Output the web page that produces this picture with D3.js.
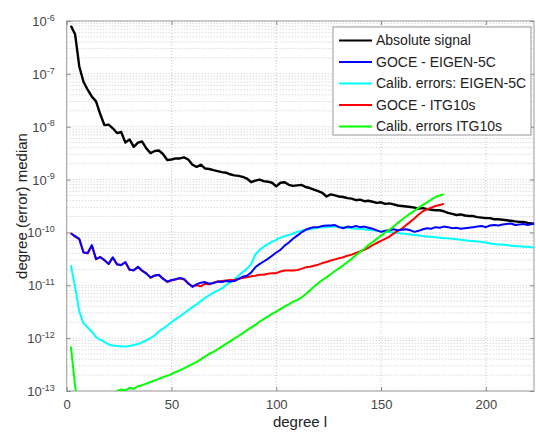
<!DOCTYPE html>
<html>
<head>
<meta charset="utf-8">
<script src="https://cdn.jsdelivr.net/npm/d3@7"></script>
<style>
  body { margin: 0; background: #fff; }
  text { font-family: 'Liberation Sans', Arial, sans-serif; }
</style>
</head>
<body>
<div id="chart"></div>
<script>
// log10 of the degree (error) median, sampled every 2nd degree from l = 2
const absSignal = [
  -6.09, -6.25, -6.86, -7.15, -7.30, -7.43, -7.52, -7.76, -7.97, -7.96,
  -8.03, -8.12, -8.10, -8.30, -8.24, -8.38, -8.30, -8.28, -8.41, -8.50,
  -8.46, -8.45, -8.52, -8.63, -8.62, -8.60, -8.60, -8.58, -8.62, -8.72,
  -8.76, -8.72, -8.79, -8.80, -8.82, -8.84, -8.86, -8.87, -8.90, -8.92,
  -8.93, -8.95, -8.98, -9.05, -9.02, -9.00, -9.03, -9.04, -9.06, -9.13,
  -9.06, -9.05, -9.10, -9.12, -9.11, -9.10, -9.14, -9.16, -9.19, -9.22,
  -9.25, -9.32, -9.28, -9.30, -9.32, -9.33, -9.35, -9.36, -9.39, -9.38,
  -9.41, -9.40, -9.42, -9.44, -9.43, -9.46, -9.45, -9.47, -9.49, -9.50,
  -9.51, -9.52, -9.53, -9.55, -9.54, -9.56, -9.57, -9.58, -9.58, -9.60,
  -9.63, -9.65, -9.67, -9.66, -9.68, -9.69, -9.69, -9.71, -9.72, -9.73,
  -9.73, -9.75, -9.75, -9.76, -9.77, -9.78, -9.79, -9.80, -9.80, -9.82,
  -9.83, -9.84
];

const goceEigen = [
  -10.02, -10.07, -10.12, -10.38, -10.39, -10.24, -10.50, -10.47, -10.52, -10.60,
  -10.47, -10.60, -10.62, -10.56, -10.70, -10.72, -10.65, -10.72, -10.78, -10.85,
  -10.82, -10.80, -10.88, -10.93, -10.90, -10.89, -10.86, -10.88, -10.96, -11.03,
  -10.98, -10.95, -10.94, -10.97, -10.96, -10.93, -10.94, -10.92, -10.93, -10.92,
  -10.88, -10.84, -10.82, -10.76, -10.66, -10.60, -10.55, -10.50, -10.44, -10.38,
  -10.33, -10.25, -10.19, -10.12, -10.06, -10.00, -9.95, -9.92, -9.90, -9.90,
  -9.88, -9.87, -9.87, -9.86, -9.90, -9.92, -9.89, -9.90, -9.88, -9.90,
  -9.89, -9.91, -9.93, -9.96, -9.99, -9.97, -9.96, -9.94, -9.96, -9.95,
  -9.94, -9.96, -9.99, -9.97, -9.94, -9.92, -9.93, -9.90, -9.91, -9.89,
  -9.90, -9.92, -9.91, -9.93, -9.92, -9.91, -9.90, -9.89, -9.88, -9.90,
  -9.87, -9.86, -9.87, -9.85, -9.84, -9.83, -9.86, -9.85, -9.84, -9.86,
  -9.84, -9.83
];

const calibEigen = [
  -10.62, -11.03, -11.50, -11.72, -11.80, -11.88, -11.98, -12.03, -12.07, -12.12,
  -12.14, -12.15, -12.16, -12.16, -12.15, -12.13, -12.11, -12.08, -12.04, -12.00,
  -11.95, -11.87, -11.82, -11.76, -11.70, -11.64, -11.59, -11.53, -11.47, -11.41,
  -11.36, -11.30, -11.24, -11.19, -11.14, -11.10, -11.06, -11.00, -10.94, -10.89,
  -10.82, -10.75, -10.69, -10.60, -10.42, -10.33, -10.27, -10.22, -10.18, -10.14,
  -10.10, -10.07, -10.05, -10.02, -9.99, -9.97, -9.95, -9.94, -9.92, -9.91,
  -9.90, -9.90, -9.89, -9.89, -9.90, -9.90, -9.91, -9.92, -9.93, -9.93,
  -9.94, -9.95, -9.96, -9.97, -9.98, -9.99, -9.99, -10.00, -10.01, -10.02,
  -10.03, -10.04, -10.05, -10.06, -10.07, -10.08, -10.08, -10.09, -10.10, -10.11,
  -10.11, -10.12, -10.13, -10.14, -10.15, -10.16, -10.16, -10.17, -10.18, -10.19,
  -10.21, -10.22, -10.23, -10.23, -10.24, -10.25, -10.26, -10.26, -10.27, -10.27,
  -10.28, -10.29
];

const goceItg = [
  -10.01, -10.08, -10.13, -10.37, -10.40, -10.25, -10.51, -10.46, -10.53, -10.59,
  -10.48, -10.61, -10.61, -10.57, -10.71, -10.71, -10.66, -10.73, -10.77, -10.86,
  -10.81, -10.81, -10.87, -10.94, -10.91, -10.88, -10.87, -10.89, -10.97, -11.02,
  -11.00, -11.02, -10.97, -10.98, -10.95, -10.93, -10.92, -10.91, -10.90, -10.90,
  -10.88, -10.86, -10.85, -10.83, -10.82, -10.80, -10.80, -10.78, -10.77, -10.77,
  -10.74, -10.72, -10.72, -10.72, -10.71, -10.69, -10.66, -10.65, -10.63, -10.61,
  -10.58, -10.56, -10.53, -10.51, -10.49, -10.47, -10.44, -10.42, -10.39, -10.36,
  -10.33, -10.29, -10.24, -10.20, -10.16, -10.12, -10.08, -10.02, -9.97, -9.93,
  -9.86, -9.80, -9.73, -9.66, -9.60, -9.56, -9.53, -9.50, -9.48, -9.46
];

const calibItg = [
  -12.16, -12.90, -13.50, -13.90, -14.00, -13.90, -13.70, -13.50, -13.30, -13.15,
  -13.06, -13.00, -12.97, -12.99, -12.94, -12.96, -12.91, -12.89, -12.86, -12.83,
  -12.80, -12.77, -12.74, -12.71, -12.68, -12.64, -12.61, -12.57, -12.53, -12.49,
  -12.45, -12.40, -12.35, -12.30, -12.26, -12.21, -12.16, -12.11, -12.06, -12.01,
  -11.96, -11.91, -11.85, -11.80, -11.75, -11.69, -11.64, -11.59, -11.54, -11.50,
  -11.45, -11.40, -11.36, -11.31, -11.28, -11.23, -11.17, -11.10, -11.03, -10.96,
  -10.90, -10.85, -10.79, -10.73, -10.68, -10.62, -10.56, -10.50, -10.43, -10.37,
  -10.31, -10.24, -10.18, -10.12, -10.06, -10.00, -9.95, -9.89, -9.82, -9.76,
  -9.70, -9.64, -9.59, -9.53, -9.48, -9.43, -9.38, -9.33, -9.30, -9.28
];

const seriesNames = ['Absolute signal', 'GOCE - EIGEN-5C', 'Calib. errors: EIGEN-5C', 'GOCE - ITG10s', 'Calib. errors ITG10s'];
const seriesColors = ['#000000', '#0000ff', '#00ffff', '#ff0000', '#00ff00'];
const xTicks = [0, 50, 100, 150, 200];
const yExponents = [-13, -12, -11, -10, -9, -8, -7, -6];

const width = 536, height = 432;
const margin = { top: 21, right: 2, bottom: 41, left: 66.7 };
const innerW = width - margin.left - margin.right;
const innerH = height - margin.top - margin.bottom;

const svg = d3.select('#chart')
  .append('svg')
  .attr('width', width)
  .attr('height', height)

const x = d3.scaleLinear().domain([0, 223]).range([0, innerW]);
const y = d3.scaleLog().domain([1e-13, 1e-6]).range([innerH, 0]);

const graph = svg.append('g')
  .attr('transform', `translate(${margin.left}, ${margin.top})`)

// dotted grid, majors and log minors
const minors = [];
yExponents.slice(0, -1).forEach(e => {
  for (let k = 2; k <= 9; k++) minors.push(k * Math.pow(10, e));
});

graph.append('g')
  .selectAll('line')
  .data(minors.concat(yExponents.map(e => Math.pow(10, e))))
  .enter().append('line')
  .attr('x1', 0).attr('x2', innerW)
  .attr('y1', d => y(d)).attr('y2', d => y(d))
  .attr('stroke', '#c8c8c8')
  .attr('stroke-dasharray', '1,2')

graph.append('g')
  .selectAll('line')
  .data(xTicks.slice(1))
  .enter().append('line')
  .attr('x1', d => x(d)).attr('x2', d => x(d))
  .attr('y1', 0).attr('y2', innerH)
  .attr('stroke', '#c8c8c8')
  .attr('stroke-dasharray', '1,2')

// frame + inward ticks
graph.append('rect')
  .attr('width', innerW).attr('height', innerH)
  .attr('fill', 'none')
  .attr('stroke', '#999')

const xAxis = graph.append('g')
  .attr('transform', `translate(0, ${innerH})`)
  .call(d3.axisBottom(x).tickValues(xTicks).tickSize(-4).tickPadding(9))

graph.append('g')
  .call(d3.axisTop(x).tickValues(xTicks).tickSize(-4).tickFormat(''))

const yAxis = graph.append('g')
  .call(d3.axisLeft(y).tickValues(yExponents.map(e => Math.pow(10, e))).tickSize(-4).tickFormat(''))

graph.append('g')
  .attr('transform', `translate(${innerW}, 0)`)
  .call(d3.axisRight(y).tickValues(yExponents.map(e => Math.pow(10, e))).tickSize(-4).tickFormat(''))

graph.selectAll('.domain').remove();
graph.selectAll('.tick line').attr('stroke', '#888');

xAxis.selectAll('text')
  .attr('font-size', 13)
  .attr('fill', '#444')

yAxis.selectAll('.tick')
  .append('text')
  .attr('x', -12)
  .attr('dy', '0.35em')
  .attr('text-anchor', 'end')
  .attr('font-size', 13)
  .attr('fill', '#444')
  .each(function (d) {
    const t = d3.select(this);
    t.append('tspan').text('10');
    t.append('tspan')
      .attr('dy', '-0.6em')
      .attr('font-size', 9)
      .text(Math.round(Math.log10(d)));
  })

// curves
const clip = svg.append('clipPath').attr('id', 'plotClip')
  .append('rect').attr('width', innerW).attr('height', innerH);

const line = d3.line()
  .x((d, i) => x(2 + 2 * i))
  .y(d => y(Math.pow(10, d)))

const drawOrder = [
  { data: absSignal, c: 0, w: 2.4 },
  { data: calibEigen, c: 2, w: 2 },
  { data: goceItg, c: 3, w: 2 },
  { data: goceEigen, c: 1, w: 2 },
  { data: calibItg, c: 4, w: 2 },
];

const lines = graph.append('g').attr('clip-path', 'url(#plotClip)');

lines.selectAll('path')
  .data(drawOrder)
  .enter().append('path')
  .attr('d', d => line(d.data))
  .attr('fill', 'none')
  .attr('stroke', d => seriesColors[d.c])
  .attr('stroke-width', d => d.w)
  .attr('stroke-linejoin', 'round')

// legend
const legend = graph.append('g')
  .attr('transform', `translate(${333 - margin.left}, ${27 - margin.top})`)

legend.append('rect')
  .attr('width', 198).attr('height', 108)
  .attr('fill', '#fff')
  .attr('stroke', '#999')

const rows = legend.selectAll('g')
  .data(seriesNames)
  .enter().append('g')
  .attr('transform', (d, i) => `translate(0, ${13.5 + i * 21.5})`)

rows.append('line')
  .attr('x1', 6).attr('x2', 39)
  .attr('stroke', (d, i) => seriesColors[i])
  .attr('stroke-width', 2)

rows.append('text')
  .attr('x', 43)
  .attr('dy', '0.35em')
  .attr('font-size', 14)
  .attr('fill', '#222')
  .text(d => d)

// axis titles
svg.append('text')
  .attr('x', 300).attr('y', 427)
  .attr('text-anchor', 'middle')
  .attr('font-size', 15)
  .attr('fill', '#222')
  .text('degree l')

svg.append('text')
  .attr('transform', 'translate(27, 206) rotate(-90)')
  .attr('text-anchor', 'middle')
  .attr('font-size', 15)
  .attr('fill', '#222')
  .text('degree (error) median')
</script>
</body>
</html>
